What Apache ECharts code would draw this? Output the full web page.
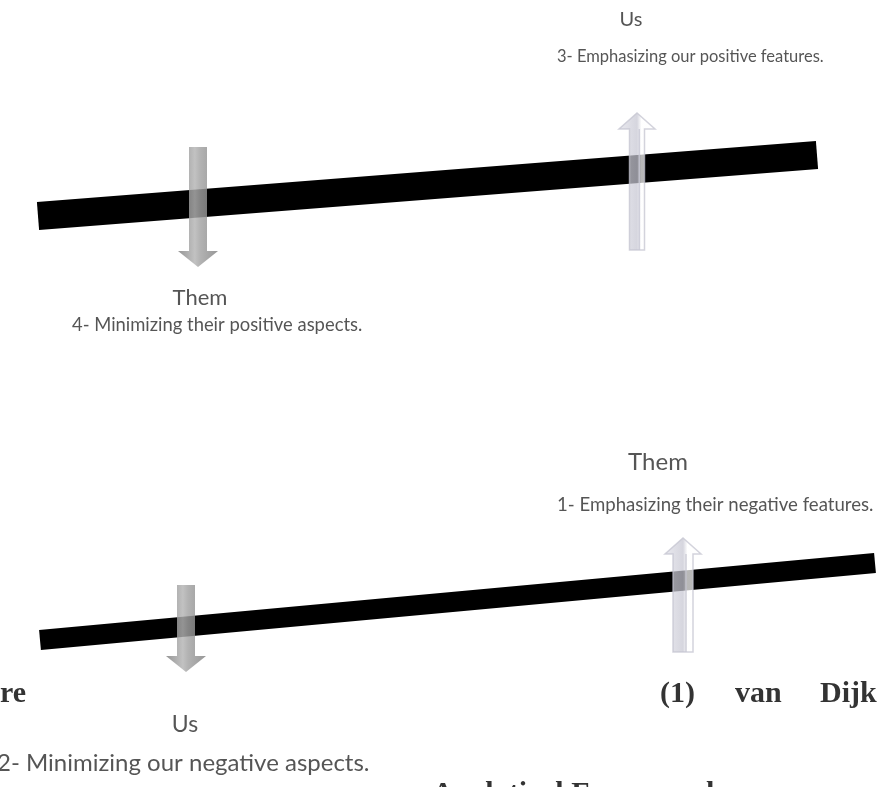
<!DOCTYPE html>
<html>
<head>
<meta charset="utf-8">
<script src="https://cdn.jsdelivr.net/npm/echarts@6/dist/echarts.min.js"></script>
<style>
  html, body { margin: 0; padding: 0; background: #fff; }
  #chart { width: 879px; height: 787px; }
</style>
</head>
<body>
<div id="chart"></div>
<script>
// the two "ideological square" beams, [x, y] at each end (axis units = page units)
var beamTop = [[38, 216], [817, 155]];
var beamBottom = [[40, 640], [875, 563]];

// arrows: [x, tail y, tip y]
var arrowsDark = [[198, 147, 267], [186, 585, 672]];
var arrowsLight = [[637, 250, 113], [683, 652, 538]];

// captions
var sansText = ['Us', '3- Emphasizing our positive features.', 'Them', '4- Minimizing their positive aspects.',
  'Them', '1- Emphasizing their negative features.', 'Us', '2- Minimizing our negative aspects.'];
var sansAt = [[631, 20], [557, 57], [200, 298], [72, 325], [658, 462], [557, 505], [185, 725], [-3, 763]];
var sansSize = [20, 16.5, 22, 18.4, 24, 18.6, 23, 24];
var sansAlign = ['center', 'left', 'center', 'left', 'center', 'left', 'center', 'left'];

var serifText = ['re', '(1)', 'van', 'Dijk', 'Analytical Framework'];
var serifAt = [[0, 694], [660, 694], [735, 694], [820, 694], [432, 794]];

var myChart = echarts.init(document.getElementById('chart'));

function arrowItem(kind) {
    return function (params, api) {
        var tail = api.coord([api.value(0), api.value(1)]);
        var tip = api.coord([api.value(0), api.value(2)]);
        var dir = tip[1] > tail[1] ? 1 : -1;
        var hw, hh, hl;
        if (kind === 'dark') { hw = 9; hh = 20; hl = 16; }
        else { hw = params.dataIndex === 0 ? 7.5 : 10; hh = 18; hl = 16; }
        var x = tail[0];
        var base = tip[1] - dir * hl;
        var pts = [
            [x - hw, tail[1]], [x - hw, base], [x - hh, base], [x, tip[1]],
            [x + hh, base], [x + hw, base], [x + hw, tail[1]]
        ];
        if (kind === 'dark') {
            return {
                type: 'polygon',
                shape: { points: pts },
                style: {
                    fill: new echarts.graphic.LinearGradient(0, 0, 1, 0, [
                        { offset: 0, color: '#7e7e7e' },
                        { offset: 0.42, color: '#b4b4b4' },
                        { offset: 0.55, color: '#a2a2a2' },
                        { offset: 1, color: '#808080' }
                    ]),
                    opacity: 0.82
                }
            };
        }
        return {
            type: 'group',
            children: [{
                type: 'polygon',
                shape: { points: pts },
                style: {
                    fill: new echarts.graphic.LinearGradient(0, 0, 1, 0, [
                        { offset: 0, color: '#e2e2ea' },
                        { offset: 0.5, color: '#c6c6d2' },
                        { offset: 0.62, color: '#ffffff' },
                        { offset: 1, color: '#ffffff' }
                    ]),
                    stroke: '#c2c2ce',
                    lineWidth: 1.5,
                    opacity: 0.72
                }
            }, {
                type: 'line',
                shape: { x1: x + hw * 0.3, y1: tail[1], x2: x + hw * 0.3, y2: base },
                style: { stroke: '#c8c8d4', lineWidth: 1.5, opacity: 0.8 }
            }]
        };
    };
}

function labels(texts, at, extra) {
    return texts.map(function (t, i) {
        return {
            value: at[i],
            label: echarts.util.extend({ formatter: t }, extra(i))
        };
    });
}

var option = {
    animation: false,
    grid: { left: 0, right: 0, top: 0, bottom: 0 },
    xAxis: { type: 'value', min: 0, max: 879, show: false },
    yAxis: { type: 'value', min: 0, max: 787, inverse: true, show: false },
    series: [
        {
            type: 'line', data: beamTop, symbol: 'none',
            lineStyle: { color: '#000', width: 28, cap: 'butt' }, z: 2
        },
        {
            type: 'line', data: beamBottom, symbol: 'none',
            lineStyle: { color: '#000', width: 20, cap: 'butt' }, z: 2
        },
        { type: 'custom', renderItem: arrowItem('dark'), data: arrowsDark, z: 3, clip: false },
        { type: 'custom', renderItem: arrowItem('light'), data: arrowsLight, z: 3, clip: false },
        {
            type: 'scatter', symbolSize: 0, z: 4, clip: false,
            label: { show: true, position: 'inside', verticalAlign: 'middle', color: '#2b2b2b', fontFamily: 'Lato' },
            data: labels(sansText, sansAt, function (i) {
                return { fontSize: sansSize[i], align: sansAlign[i] };
            })
        },
        {
            type: 'scatter', symbolSize: 0, z: 4, clip: false,
            label: {
                show: true, position: 'inside', verticalAlign: 'middle', align: 'left',
                color: '#000', fontFamily: 'Liberation Serif', fontWeight: 'bold', fontSize: 30
            },
            data: labels(serifText, serifAt, function () { return {}; })
        }
    ]
};

myChart.setOption(option);
</script>
</body>
</html>
